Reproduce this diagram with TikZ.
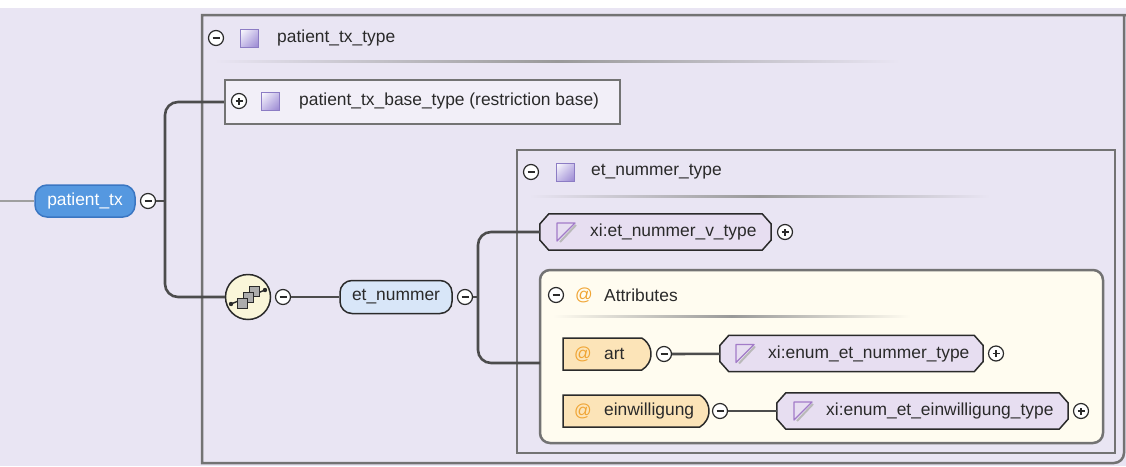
\documentclass[tikz,border=0pt]{standalone}
\usepackage{fontspec}
\setmainfont{Liberation Sans}
\usetikzlibrary{shapes.misc, shadings}

\definecolor{bgcol}{HTML}{E9E5F3}
\definecolor{basefill}{HTML}{F2EFF8}
\definecolor{boxline}{HTML}{737373}
\definecolor{connline}{HTML}{4C4C4C}
\definecolor{txtcol}{HTML}{2A2A2A}
\definecolor{elemblue}{HTML}{5598E0}
\definecolor{elemedge}{HTML}{3A76C2}
\definecolor{reflight}{HTML}{D8E6F8}
\definecolor{typefill}{HTML}{E7DEF1}
\definecolor{attrfill}{HTML}{FCE4B8}
\definecolor{attrboxfill}{HTML}{FFFCF0}
\definecolor{atorange}{HTML}{F0A535}
\definecolor{iconpurple}{HTML}{A27BC8}
\definecolor{sqmid}{HTML}{C8BEE9}
\definecolor{sqdark}{HTML}{9A88D2}
\definecolor{sqedge}{HTML}{8C7CC4}
\definecolor{seqfill}{HTML}{FAF6D9}

% chamfered outline round a type node
\newcommand{\typeoutline}[1]{%
  \filldraw[typeframe] ([xshift=9pt]#1.north west) -- ([xshift=-9pt]#1.north east)
    -- ([yshift=8pt]#1.east) -- ([yshift=-8pt]#1.east) -- ([xshift=-9pt]#1.south east)
    -- ([xshift=9pt]#1.south west) -- ([yshift=-8pt]#1.west) -- ([yshift=8pt]#1.west) -- cycle;}

\tikzset{
  every node/.style={font=\fontsize{17.4}{20}\selectfont, text=txtcol},
  conn/.style={draw=connline, line width=2.6pt, rounded corners=13pt},
  frame/.style={draw=boxline, line width=2.5pt},
  lbl/.style={anchor=west, inner sep=0pt},
  atsign/.style={inner sep=0pt, text=atorange},
  tglminus/.style={circle, draw=txtcol, fill=white, line width=1.2pt, minimum size=15pt, inner sep=0pt,
    path picture={\draw[line width=1.3pt] ([xshift=-3.5pt]path picture bounding box.center) -- ([xshift=3.5pt]path picture bounding box.center);}},
  tglplus/.style={circle, draw=txtcol, fill=white, line width=1.2pt, minimum size=15pt, inner sep=0pt,
    path picture={\draw[line width=1.3pt] ([xshift=-3.5pt]path picture bounding box.center) -- ([xshift=3.5pt]path picture bounding box.center)
      ([yshift=-3.5pt]path picture bounding box.center) -- ([yshift=3.5pt]path picture bounding box.center);}},
  elem/.style={rectangle, rounded corners=12pt, draw=elemedge, fill=elemblue, line width=1.5pt, minimum height=32pt, text=white},
  refelem/.style={rectangle, rounded corners=12pt, draw=txtcol, fill=reflight, line width=1.5pt, minimum height=33pt},
  basebox/.style={rectangle, draw=boxline, line width=2.5pt, fill=basefill},
  typebox/.style={rectangle, minimum height=36pt, inner sep=0pt},
  typeframe/.style={draw=txtcol, fill=typefill, line width=1.5pt, line join=round},
  attrnode/.style={rounded rectangle, rounded rectangle left arc=none, rounded rectangle arc length=120, draw=txtcol, fill=attrfill, line width=1.5pt, minimum height=32pt, inner sep=0pt},
  seqnode/.style={circle, draw=txtcol, fill=seqfill, line width=1.5pt, minimum size=45pt, inner sep=0pt},
  sqicon/.pic={\shade[draw=sqedge, line width=0.8pt, upper left=white, upper right=sqmid, lower left=sqmid, lower right=sqdark] (-9,-9) rectangle (9,9);},
  simicon/.pic={\draw[gray!55, line width=2pt] (10,-7) -- (-6,10);
    \draw[iconpurple, line width=1.3pt, line join=round] (-9,-9) -- (9,-9) -- (-9,9) -- cycle;},
  seqicon/.pic={\draw[txtcol, line width=1.4pt] (-17,7) -- (17,-7);
    \fill[txtcol] (-17,7) circle (2.2) (17,-7) circle (2.2);
    \foreach \dx/\dy in {6/-6, 0/0, -6/6}
      \filldraw[fill=gray!65, draw=txtcol, line width=0.9pt] (\dx-5,\dy-5) rectangle (\dx+5,\dy+5);}
}

\begin{document}
\begin{tikzpicture}[x=1pt, y=-1pt]
\useasboundingbox (0,0) rectangle (1126,466);
\fill[white] (0,0) rectangle (1126,466);
\fill[bgcol] (0,8) rectangle (1126,466);

% patient_tx_type frame
\draw[frame] (1135,15) -- (202,15) -- (202,463) {[rounded corners=10pt] -- (1124,463) -- (1124,15)};
\shade[left color=bgcol, right color=bgcol, middle color=gray!80] (214,60.5) rectangle (900,62.5);
\node[tglminus] (pttmin) at (216,38) {};
\pic at (249,38) {sqicon};
\node[lbl] (pttname) at (277,38) {patient\_tx\_type};

\node[basebox, minimum width=395pt, minimum height=44pt] (base) at (422.5,102) {};
\node[tglplus] (baseplus) at (239,101) {};
\pic at (270,101) {sqicon};
\node[lbl] (basename) at (299,101) {patient\_tx\_base\_type (restriction base)};

% et_nummer_type frame
\draw[frame] (517,150) rectangle (1115,453);
\shade[left color=bgcol, right color=bgcol, middle color=gray!80] (529,195) rectangle (990,197);
\node[tglminus] (ntmin) at (531,172) {};
\pic at (565,172) {sqicon};
\node[lbl] (ntname) at (591,172) {et\_nummer\_type};

\node[typebox, minimum width=231pt] (nvt) at (655.5,232) {};
\typeoutline{nvt}
\pic at (566,232) {simicon};
\node[lbl] (nvtname) at (590,232) {xi:et\_nummer\_v\_type};
\node[tglplus] (nvtplus) at (785,232) {};

% attributes
\draw[frame, fill=attrboxfill, rounded corners=10pt] (540,270) rectangle (1103,443);
\shade[left color=attrboxfill, right color=attrboxfill, middle color=gray!80] (553,315) rectangle (910,317);
\node[tglminus] (attrmin) at (556,295) {};
\node[atsign] at (584,295) {@};
\node[lbl] (attrname) at (604,295) {Attributes};

\node[attrnode, minimum width=88pt] (art) at (607,354) {};
\node[atsign] at (583,354) {@};
\node[lbl] (artname) at (604,354) {art};
\node[tglminus] (artmin) at (664,354) {};
\node[typebox, minimum width=263pt] (ent) at (851.5,353.5) {};
\typeoutline{ent}
\pic at (745,353.5) {simicon};
\node[lbl] (entname) at (768,353.5) {xi:enum\_et\_nummer\_type};
\node[tglplus] (entplus) at (996,353.5) {};

\node[attrnode, minimum width=146pt] (ein) at (636,411) {};
\node[atsign] at (583,411) {@};
\node[lbl] (einname) at (604,411) {einwilligung};
\node[tglminus] (einmin) at (720,411) {};
\node[typebox, minimum width=291pt] (eet) at (922.5,411) {};
\typeoutline{eet}
\pic at (803,411) {simicon};
\node[lbl] (eetname) at (826,411) {xi:enum\_et\_einwilligung\_type};
\node[tglplus] (eetplus) at (1081,411) {};

% elements
\node[elem, minimum width=100pt] (ptx) at (85,201) {patient\_tx};
\node[tglminus] (ptxmin) at (148,201) {};
\node[seqnode] (seq) at (248,297) {};
\pic at (248,297) {seqicon};
\node[tglminus] (seqmin) at (283,297) {};
\node[refelem, minimum width=112pt] (etn) at (396,297) {et\_nummer};
\node[tglminus] (etnmin) at (465,297) {};

% connectors
\coordinate (inlet) at (0,201);
\coordinate (fork1) at (165,201);
\coordinate (fork2) at (478,297);
\coordinate (attrin) at (540,363);
\draw[draw=gray!75, line width=1.5pt] (inlet) -- (ptx);
\draw[conn] (ptxmin) -- (fork1);
\draw[conn] (base.west) -| (fork1) |- (seq.west);
\draw[conn] (seqmin) -- (etn);
\draw[conn] (etnmin) -- (fork2);
\draw[conn] (nvt.west) -| (fork2) |- (attrin);
\draw[conn] (artmin) -- (ent);
\draw[conn] (einmin) -- (eet);
\end{tikzpicture}
\end{document}
